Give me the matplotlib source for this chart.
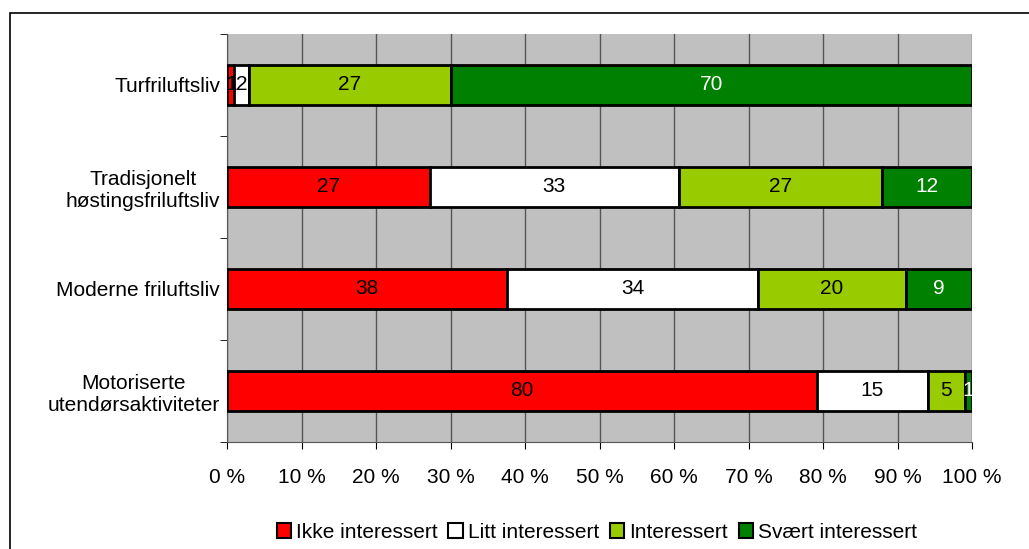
import numpy as np
import matplotlib
matplotlib.use("Agg")
from matplotlib import pyplot as plt
from matplotlib.patches import Rectangle

plt.rcParams['font.family'] = ['Liberation Sans', 'DejaVu Sans']

categories = ["Turfriluftsliv", "Tradisjonelt\nhøstingsfriluftsliv", "Moderne friluftsliv",
              "Motoriserte\nutendørsaktiviteter"]
series = ["Ikke interessert", "Litt interessert", "Interessert", "Svært interessert"]
ikke = [1, 27, 38, 80]
litt = [2, 33, 34, 15]
interessert = [27, 27, 20, 5]
svaert = [70, 12, 9, 1]
colors = ["#FF0000", "#FFFFFF", "#99CC00", "#008000"]
text_colors = ["black", "black", "black", "white"]

data = np.array([ikke, litt, interessert, svaert], dtype=float)
totals = data.sum(axis=0)
shares = data / totals * 100

fs = 15

fig = plt.figure(figsize=(10.29, 5.49), dpi=100)
fig.patches.append(Rectangle((10 / 1029, -0.1), 1.2, 1 - 13 / 549 + 0.1, transform=fig.transFigure,
                             fill=False, edgecolor="black", linewidth=1.2))
ax = fig.add_axes([227 / 1029, 1 - 442 / 549, (972 - 227) / 1029, (442 - 34) / 549])
ax.set_facecolor("#C0C0C0")

y = np.arange(len(categories))
left = np.zeros(len(categories))
for i, name in enumerate(series):
    ax.barh(y, shares[i], left=left, height=0.4, color=colors[i], edgecolor="black",
            linewidth=2, label=name, zorder=3)
    for j in range(len(categories)):
        ax.text(left[j] + shares[i][j] / 2, y[j], f"{int(data[i][j])}", ha="center", va="center",
                fontsize=fs, color=text_colors[i], zorder=4)
    left += shares[i]

ax.set_xlim(0, 100)
ax.set_ylim(len(categories) - 0.5, -0.5)
ax.set_xticks(np.arange(0, 101, 10))
ax.set_xticklabels([f"{v} %" for v in range(0, 101, 10)], fontsize=fs)
ax.set_yticks(y)
ax.set_yticklabels(categories, fontsize=fs, multialignment="center")
ax.tick_params(axis="y", length=0, pad=5)
ax.set_yticks(np.arange(-0.5, len(categories), 1), minor=True)
ax.tick_params(axis="y", which="minor", length=5, direction="out")
ax.tick_params(axis="x", length=5, direction="out", pad=14)
ax.xaxis.grid(True, color="#555555", linewidth=1, zorder=1)
ax.set_axisbelow(True)
for s in ["top", "right"]:
    ax.spines[s].set_visible(False)
ax.spines["left"].set_color("#555555")
ax.spines["bottom"].set_color("#555555")

leg = fig.legend(loc="center", bbox_to_anchor=(597 / 1029, 1 - 532 / 549), ncol=4, frameon=False,
                 fontsize=fs, handlelength=0.7, handleheight=0.7, handletextpad=0.25,
                 columnspacing=0.5)
for h in leg.legend_handles:
    h.set_linewidth(1.5)

fig.savefig("out.png", dpi=100)
